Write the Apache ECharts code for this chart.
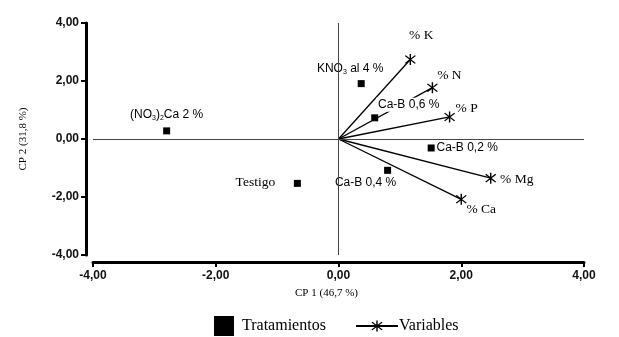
<!DOCTYPE html>
<html>
<head>
<meta charset="utf-8">
<script src="https://cdn.jsdelivr.net/npm/echarts@6/dist/echarts.min.js"></script>
<style>
  html, body { margin: 0; padding: 0; background: #fff; }
  #main { width: 619px; height: 337px; }
</style>
</head>
<body>
<div id="main"></div>
<script>
// tratamientos (cuadrados)
var treatNames = ['(NO3)2Ca 2 %', 'KNO3 al 4 %', 'Ca-B 0,6 %', 'Ca-B 0,2 %', 'Ca-B 0,4 %', 'Testigo'];
var treatCP1 = [-2.80, 0.37, 0.59, 1.51, 0.80, -0.67];
var treatCP2 = [0.28, 1.91, 0.73, -0.31, -1.08, -1.53];

// variables (vectores desde el origen)
var varNames = ['% K', '% N', '% P', '% Mg', '% Ca'];
var varCP1 = [1.17, 1.53, 1.81, 2.48, 2.00];
var varCP2 = [2.74, 1.77, 0.76, -1.35, -2.08];

var axisMin = -4, axisMax = 4, axisStep = 2;

// etiquetas con subindices
var richNames = {
  '(NO3)2Ca 2 %': '(NO{s|3}){s|2}Ca 2 %',
  'KNO3 al 4 %': 'KNO{s|3} al 4 %'
};
// desplazamiento de cada etiqueta respecto a su punto (px)
var treatLabelOffset = [[0, -16], [-11, -15], [34, -13], [36, 0], [-22, 12], [-42, -1]];
var varLabelOffset = [[11, -24], [17, -12], [17, -9], [26, 1], [20, 10]];

var serif = '"Liberation Serif", "Times New Roman", serif';
var sans = '"Liberation Sans", Arial, sans-serif';

var star = 'path://M9 0L11 0L11 20L9 20Z M2.2 3.6L3.6 2.2L17.8 16.4L16.4 17.8Z M16.4 2.2L17.8 3.6L3.6 17.8L2.2 16.4Z';

var chart = echarts.init(document.getElementById('main'));

var treatData = treatNames.map(function (n, i) {
  var item = {
    name: n,
    value: [treatCP1[i], treatCP2[i]],
    label: {
      show: true,
      position: 'inside',
      offset: treatLabelOffset[i],
      formatter: richNames[n] || n,
      fontFamily: sans,
      fontSize: 12,
      color: '#000',
      textBorderWidth: 0
    }
  };
  if (n === 'Testigo') {
    item.label.fontFamily = serif;
    item.label.fontSize = 13.5;
  }
  if (n === 'Ca-B 0,6 %') {
    item.label.backgroundColor = '#fff';
    item.label.padding = [1, 2];
  }
  return item;
});

var series = varNames.map(function (n, i) {
  return {
    name: 'Variables',
    type: 'line',
    symbol: star,
    symbolSize: 11,
    lineStyle: { color: '#000', width: 1.3 },
    itemStyle: { color: '#000' },
    z: 2,
    data: [
      { value: [0, 0], symbol: 'none', label: { show: false } },
      {
        name: n,
        value: [varCP1[i], varCP2[i]],
        label: {
          show: true,
          position: 'inside',
          offset: varLabelOffset[i],
          formatter: n,
          fontFamily: serif,
          fontSize: 13.5,
          color: '#000',
          textBorderWidth: 0
        }
      }
    ]
  };
});

series.push({
  name: 'Tratamientos',
  type: 'scatter',
  symbol: 'rect',
  symbolSize: 7,
  itemStyle: { color: '#000', opacity: 1 },
  z: 3,
  label: {
    color: '#000',
    textBorderWidth: 0,
    rich: {
      s: { fontSize: 7, verticalAlign: 'bottom', padding: [7, 0, 0, 0], fontFamily: sans, color: '#000', textBorderWidth: 0 }
    }
  },
  markLine: {
    silent: true,
    symbol: 'none',
    label: { show: false },
    lineStyle: { color: '#444', width: 1, type: 'solid' },
    data: [{ yAxis: 0 }, { xAxis: 0 }]
  },
  data: treatData
});

var option = {
  animation: false,
  backgroundColor: '#fff',
  grid: { left: 93, right: 35, top: 23, bottom: 82 },
  legend: [
    {
      data: ['Tratamientos'],
      left: 209, top: 311,
      itemWidth: 20, itemHeight: 20,
      textStyle: { fontFamily: serif, fontSize: 16, color: '#000', padding: [0, 0, 0, 3] }
    },
    {
      data: ['Variables'],
      left: 350, top: 313,
      itemWidth: 42, itemHeight: 14,
      itemGap: 0,
      textStyle: { fontFamily: serif, fontSize: 16, color: '#000', padding: [0, 0, 0, -4] }
    }
  ],
  xAxis: {
    type: 'value',
    min: axisMin, max: axisMax, interval: axisStep,
    offset: 7,
    name: 'CP 1 (46,7 %)',
    nameLocation: 'middle',
    nameGap: 26,
    nameTextStyle: { fontFamily: serif, fontSize: 11, color: '#000', padding: [0, 24, 0, 0] },
    axisLine: { onZero: false, lineStyle: { color: '#000', width: 3 } },
    axisTick: { length: 5, lineStyle: { color: '#000', width: 2 } },
    axisLabel: {
      margin: 8, fontFamily: sans, fontWeight: 'bold', fontSize: 12, color: '#111',
      formatter: function (v) { return v.toFixed(2).replace('.', ','); }
    },
    splitLine: { show: false }
  },
  yAxis: {
    type: 'value',
    min: axisMin, max: axisMax, interval: axisStep,
    offset: 7,
    name: 'CP 2 (31,8 %)',
    nameLocation: 'middle',
    nameGap: 57,
    nameTextStyle: { fontFamily: serif, fontSize: 11, color: '#000' },
    axisLine: { onZero: false, lineStyle: { color: '#000', width: 3 } },
    axisTick: { length: 5, lineStyle: { color: '#000', width: 2 } },
    axisLabel: {
      margin: 7, fontFamily: sans, fontWeight: 'bold', fontSize: 12, color: '#111',
      formatter: function (v) { return v.toFixed(2).replace('.', ','); }
    },
    splitLine: { show: false }
  },
  series: series
};

chart.setOption(option);
</script>
</body>
</html>
